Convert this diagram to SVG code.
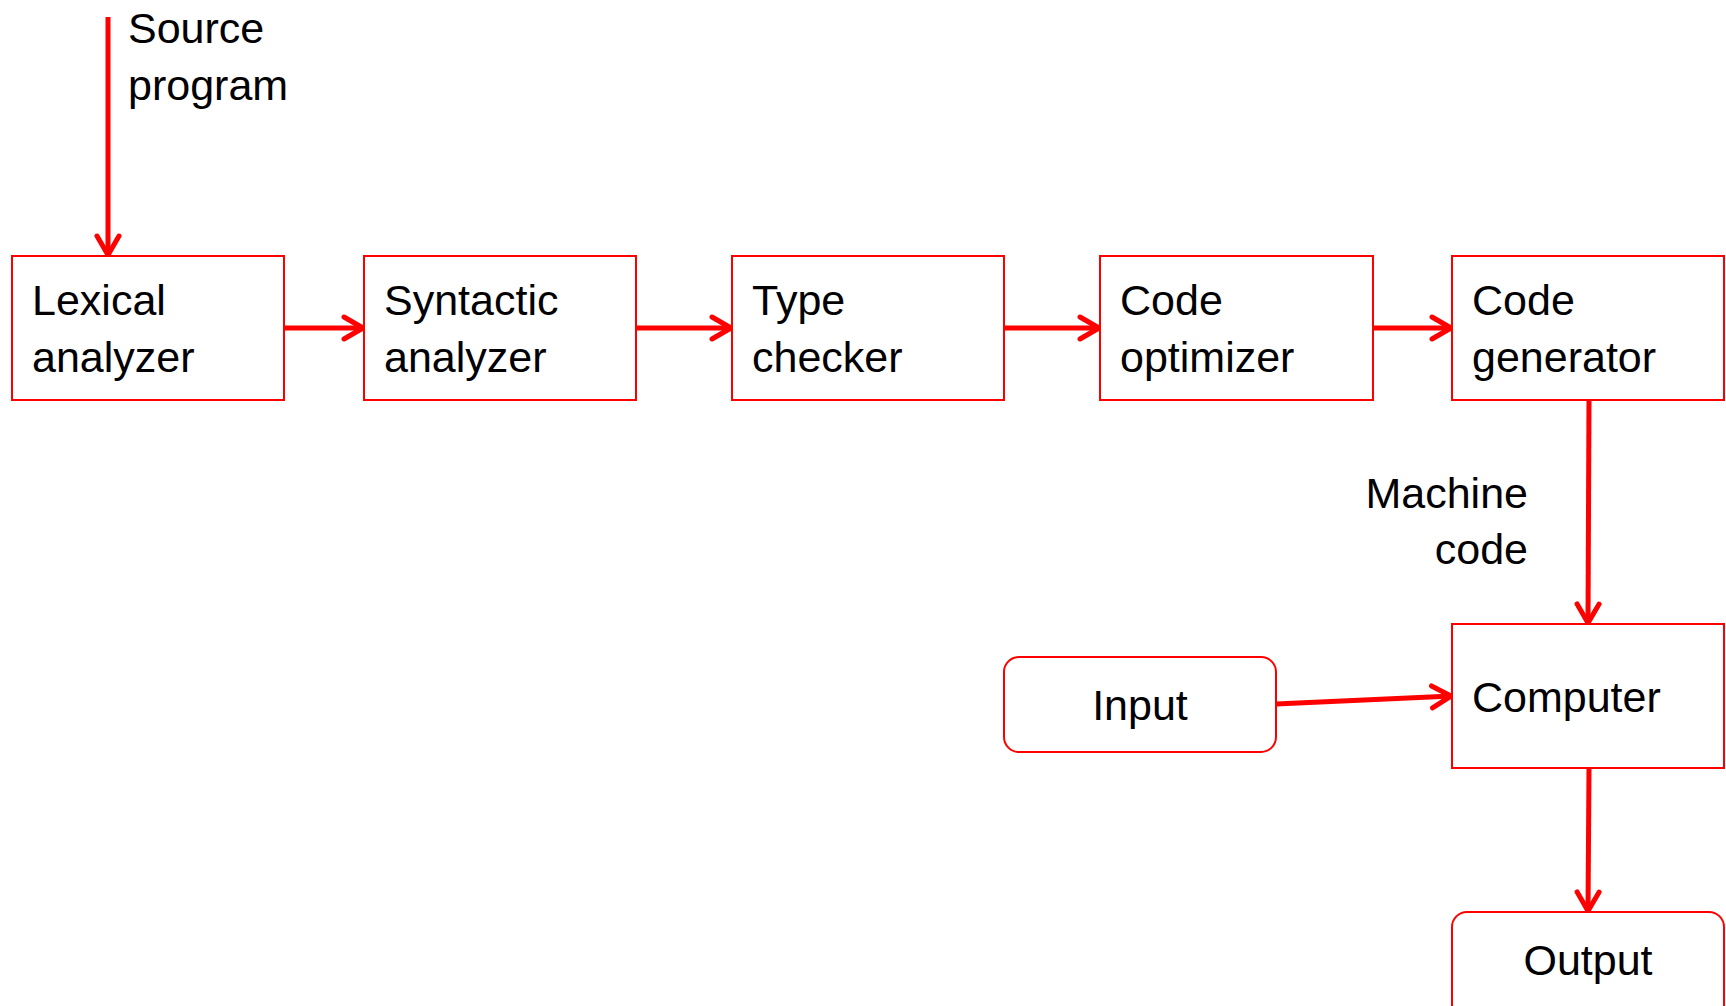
<svg xmlns="http://www.w3.org/2000/svg" width="1726" height="1006" viewBox="0 0 1726 1006">
<style>
.box{fill:#fff;stroke:#ff0000;stroke-width:2}
.t{font-family:"Liberation Sans",Arial,sans-serif;font-size:43px;fill:#000}
.c{fill:none;stroke:#ff0000;stroke-width:5}
</style>
<defs>
<marker id="ah" markerUnits="userSpaceOnUse" markerWidth="40" markerHeight="40" viewBox="-30 -20 40 40" refX="0" refY="0" orient="auto" overflow="visible">
<path d="M-20,-11 L-1,0 L-20,11" fill="none" stroke="#ff0000" stroke-width="5" stroke-linecap="round" stroke-linejoin="round"/>
</marker>
</defs>
<rect width="1726" height="1006" fill="#fff"/>
<g id="connectors">
<line class="c" x1="108" y1="17" x2="108" y2="256" marker-end="url(#ah)"/>
<line class="c" x1="284" y1="328" x2="364" y2="328" marker-end="url(#ah)"/>
<line class="c" x1="636" y1="328" x2="732" y2="328" marker-end="url(#ah)"/>
<line class="c" x1="1004" y1="328" x2="1100" y2="328" marker-end="url(#ah)"/>
<line class="c" x1="1373" y1="328" x2="1452" y2="328" marker-end="url(#ah)"/>
<line class="c" x1="1589" y1="400" x2="1588" y2="624" marker-end="url(#ah)"/>
<line class="c" x1="1276" y1="704" x2="1452" y2="696" marker-end="url(#ah)"/>
<line class="c" x1="1589" y1="768" x2="1588" y2="912" marker-end="url(#ah)"/>
</g>
<g id="source-label">
<text class="t" x="128" y="43">Source</text>
<text class="t" x="128" y="100">program</text>
</g>
<g id="lexical">
<rect class="box" x="12" y="256" width="272" height="144"/>
<text class="t" x="32" y="315">Lexical</text>
<text class="t" x="32" y="372">analyzer</text>
</g>
<g id="syntactic">
<rect class="box" x="364" y="256" width="272" height="144"/>
<text class="t" x="384" y="315">Syntactic</text>
<text class="t" x="384" y="372">analyzer</text>
</g>
<g id="type">
<rect class="box" x="732" y="256" width="272" height="144"/>
<text class="t" x="752" y="315">Type</text>
<text class="t" x="752" y="372">checker</text>
</g>
<g id="optimizer">
<rect class="box" x="1100" y="256" width="273" height="144"/>
<text class="t" x="1120" y="315">Code</text>
<text class="t" x="1120" y="372">optimizer</text>
</g>
<g id="generator">
<rect class="box" x="1452" y="256" width="272" height="144"/>
<text class="t" x="1472" y="315">Code</text>
<text class="t" x="1472" y="372">generator</text>
</g>
<g id="machine-label">
<text class="t" x="1528" y="508" text-anchor="end">Machine</text>
<text class="t" x="1528" y="564" text-anchor="end">code</text>
</g>
<g id="computer">
<rect class="box" x="1452" y="624" width="272" height="144"/>
<text class="t" x="1472" y="712">Computer</text>
</g>
<g id="input">
<rect class="box" x="1004" y="657" width="272" height="95" rx="15" ry="15"/>
<text class="t" x="1140" y="720" text-anchor="middle">Input</text>
</g>
<g id="output">
<rect class="box" x="1452" y="912" width="272" height="110" rx="15" ry="15"/>
<text class="t" x="1588" y="975" text-anchor="middle">Output</text>
</g>
</svg>
